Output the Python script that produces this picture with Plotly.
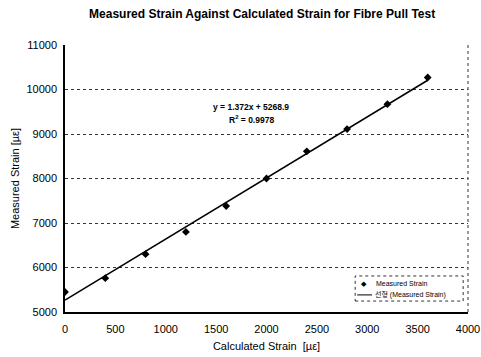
import plotly.graph_objects as go

calc_strain = [0, 400, 800, 1200, 1600, 2000, 2400, 2800, 3200, 3600]
meas_strain = [5450, 5760, 6300, 6800, 7380, 8000, 8610, 9110, 9670, 10270]
slope = 1.372
intercept = 5268.9
r_squared = 0.9978
trend_x = [0, 3600]
trend_y = [slope * x + intercept for x in trend_x]

x_ticks = [0, 500, 1000, 1500, 2000, 2500, 3000, 3500, 4000]
y_ticks = [5000, 6000, 7000, 8000, 9000, 10000, 11000]

series_names = ["Measured Strain", "선형 (Measured Strain)"]

font = "Liberation Sans, Arial, sans-serif"
leg_font = "Liberation Sans, Noto Sans CJK KR, sans-serif"

fig = go.Figure()
fig.add_trace(go.Scatter(
    x=calc_strain, y=meas_strain, mode="markers", name=series_names[0],
    marker=dict(symbol="diamond", size=6, color="black"),
))
fig.add_trace(go.Scatter(
    x=trend_x, y=trend_y, mode="lines", name=series_names[1],
    line=dict(color="black", width=1.5),
))

fig.update_layout(
    width=481, height=357,
    margin=dict(l=65, r=13, t=45, b=45),
    paper_bgcolor="white", plot_bgcolor="white",
    font=dict(family=font, size=10, color="black"),
    title=dict(text="<b>Measured Strain Against Calculated Strain for Fibre Pull Test</b>",
               x=0.545, xanchor="center", y=0.961, yanchor="middle",
               font=dict(size=12, family=font)),
    showlegend=False,
    xaxis=dict(range=[0, 4000], tickvals=x_ticks, tickformat="d", showgrid=False,
               showline=True, linecolor="black", linewidth=1.5,
               ticks="", zeroline=False, automargin=False, ticklabelstandoff=6,
               tickfont=dict(size=11, family=font),
               title=dict(text="Calculated Strain  [µε]", standoff=8,
                          font=dict(size=11, family=font))),
    yaxis=dict(range=[5000, 11000], tickvals=y_ticks, tickformat="d", showgrid=True,
               gridcolor="#333", griddash="dot", gridwidth=1,
               showline=True, linecolor="black", linewidth=1.5,
               ticks="", zeroline=False, automargin=False, ticklabelstandoff=4,
               tickfont=dict(size=11, family=font),
               title=dict(text="Measured Strain [µε]", standoff=5,
                          font=dict(size=11, family=font))),
)

# right border of plot area (dotted)
fig.add_shape(type="line", xref="paper", yref="paper", x0=1, x1=1, y0=0, y1=1,
              line=dict(color="#333", width=1, dash="dot"))

# trendline equation
fig.add_annotation(x=1850, y=9600, xref="x", yref="y",
                   text=f"<b>y = {slope}x + {intercept}</b>", showarrow=False,
                   font=dict(size=8.5, family=font))
fig.add_annotation(x=1850, y=9330, xref="x", yref="y",
                   text=f"<b>R<sup>2</sup> = {r_squared}</b>", showarrow=False,
                   font=dict(size=8.5, family=font))

# legend box (compact, like the original)
fig.add_shape(type="rect", xref="paper", yref="paper",
              x0=0.72, x1=0.988, y0=0.041, y1=0.135,
              line=dict(color="#333", width=1, dash="dot"), fillcolor="white")
fig.add_annotation(xref="paper", yref="paper", x=0.743, y=0.108,
                   xanchor="center", yanchor="middle", text="◆",
                   showarrow=False, font=dict(size=7, color="black"))
fig.add_annotation(xref="paper", yref="paper", x=0.767, y=0.108,
                   xanchor="left", yanchor="middle",
                   text=series_names[0], showarrow=False,
                   font=dict(size=7, family=leg_font))
fig.add_shape(type="line", xref="paper", yref="paper",
              x0=0.725, x1=0.762, y0=0.064, y1=0.064,
              line=dict(color="black", width=1))
fig.add_annotation(xref="paper", yref="paper", x=0.765, y=0.064,
                   xanchor="left", yanchor="middle",
                   text=series_names[1], showarrow=False,
                   font=dict(size=7, family=leg_font))

fig.write_html("out.html",
               config={"displayModeBar": False},
               post_script="document.body.style.margin='0';document.body.style.overflow='hidden';")
